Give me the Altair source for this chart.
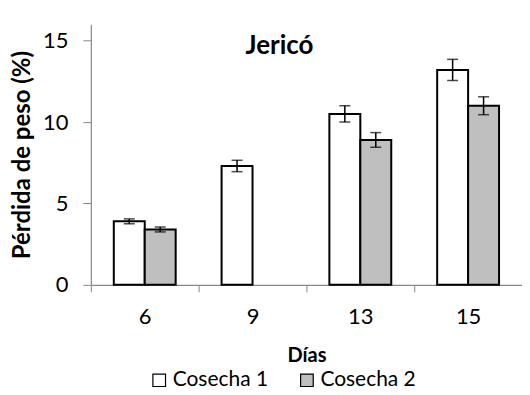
import altair as alt
import pandas as pd

days = ["6", "9", "13", "15"]
series = ["Cosecha 1", "Cosecha 2"]
c1_vals = [3.9, 7.3, 10.5, 13.2]
c1_err = [0.15, 0.35, 0.5, 0.65]
c2_vals = [3.4, None, 8.9, 11.0]
c2_err = [0.15, None, 0.45, 0.55]

rows = []
for d, v, e in zip(days, c1_vals, c1_err):
    rows.append({"dia": d, "serie": series[0], "valor": v, "lo": v - e, "hi": v + e})
for d, v, e in zip(days, c2_vals, c2_err):
    if v is not None:
        rows.append({"dia": d, "serie": series[1], "valor": v, "lo": v - e, "hi": v + e})
df = pd.DataFrame(rows)

FONT = "Lato"

x_enc = alt.X(
    "dia:N",
    sort=days,
    scale=alt.Scale(paddingInner=0, paddingOuter=0),
    axis=alt.Axis(
        title="Días",
        tickBand="extent",
        labelAngle=0,
        labelFontSize=22,
        labelPadding=15,
        tickSize=7,
        titleFontSize=20,
        titleFontWeight="bold",
        titlePadding=18,
    ),
)
xoff = alt.XOffset("serie:N", sort=series, scale=alt.Scale(paddingInner=0, paddingOuter=0.742))

bars = alt.Chart(df).mark_bar(stroke="black", strokeWidth=2).encode(
    x=x_enc,
    xOffset=xoff,
    y=alt.Y(
        "valor:Q",
        scale=alt.Scale(domain=[0, 15]),
        axis=alt.Axis(
            title="Pérdida de peso (%)",
            values=[0, 5, 10, 15],
            grid=False,
            labelFontSize=22,
            labelPadding=15,
            tickSize=8,
            titleFontSize=24,
            titleFontWeight="bold",
            titlePadding=8,
        ),
    ),
    fill=alt.Fill(
        "serie:N",
        sort=series,
        scale=alt.Scale(domain=series, range=["white", "#bfbfbf"]),
        legend=alt.Legend(
            title=None,
            orient="none",
            direction="horizontal",
            legendX=58,
            legendY=346,
            symbolType="square",
            symbolSize=160,
            symbolStrokeColor="black",
            symbolStrokeWidth=1.2,
            labelFontSize=21,
            labelOffset=3,
            columnPadding=28,
        ),
    ),
)

err = alt.Chart(df).mark_rule(color="black", strokeWidth=1.5).encode(
    x=alt.X("dia:N", sort=days),
    xOffset=alt.XOffset("serie:N", sort=series),
    y="lo:Q",
    y2="hi:Q",
)
caps_hi = alt.Chart(df).mark_tick(color="black", size=11, thickness=1.5, orient="horizontal").encode(
    x=alt.X("dia:N", sort=days),
    xOffset=alt.XOffset("serie:N", sort=series),
    y="hi:Q",
)
caps_lo = alt.Chart(df).mark_tick(color="black", size=11, thickness=1.5, orient="horizontal").encode(
    x=alt.X("dia:N", sort=days),
    xOffset=alt.XOffset("serie:N", sort=series),
    y="lo:Q",
)

title_df = pd.DataFrame({"t": ["Jericó"]})
title = alt.Chart(title_df).mark_text(
    fontSize=26, fontWeight="bold", font=FONT, color="black"
).encode(text="t:N", x=alt.value(189), y=alt.value(22))

chart = (
    alt.layer(bars, err, caps_hi, caps_lo, title)
    .properties(
        width=432,
        height=261,
        padding={"left": 83, "top": 16, "right": 0, "bottom": 102},
        autosize=alt.AutoSizeParams(type="none"),
    )
    .configure_view(stroke=None)
    .configure_axis(
        domainColor="#888888",
        tickColor="#888888",
        domainWidth=1.2,
        labelColor="black",
        titleColor="black",
        labelFont=FONT,
        titleFont=FONT,
    )
    .configure_legend(labelFont=FONT, labelColor="black")
)

chart.save("out.html", embed_options={"renderer": "svg", "actions": False})
